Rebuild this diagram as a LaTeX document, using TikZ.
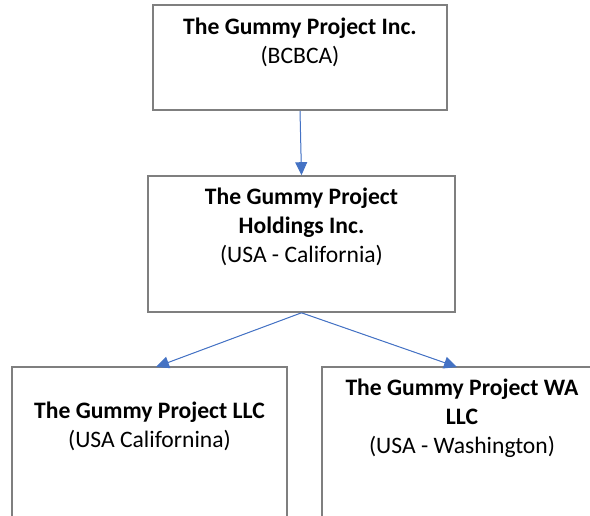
\documentclass[tikz,border=0pt]{standalone}
\usepackage{fontspec}
\setmainfont{Carlito}
\usetikzlibrary{arrows.meta, positioning}
\definecolor{boxgray}{RGB}{127,127,127}
\definecolor{linkblue}{RGB}{68,114,196}

\begin{document}
\begin{tikzpicture}[
    x=1pt, y=-1pt,
    entity/.style={rectangle, draw=boxgray, line width=1.6pt, inner sep=0pt},
    txt/.style={align=center, inner sep=0pt, anchor=north, font=\fontsize{23.6}{29}\selectfont},
    link/.style={-{Triangle[length=13pt, width=12pt]}, draw=linkblue, line width=1pt, fill=linkblue}
]
\useasboundingbox (0,0) rectangle (590,516);

\node[entity, minimum width=294pt, minimum height=105pt] (inc) at (300, 57.5) {};
\node[entity, minimum width=307pt, minimum height=136pt] (hold) at (301.5, 244) {};
\node[entity, minimum width=275pt, minimum height=170pt] (llc) at (149.5, 452) {};
\node[entity, minimum width=280pt, minimum height=170pt] (wa) at (462, 452) {};

\node[txt] (inc-t) at (300, 18) {\textbf{The Gummy Project Inc.}\\(BCBCA)};
\node[txt] (hold-t) at (301.5, 188) {\textbf{The Gummy Project}\\\textbf{Holdings Inc.}\\(USA - California)};
\node[txt] (llc-t) at (149.5, 402) {\textbf{The Gummy Project LLC}\\(USA Californina)};
\node[txt] (wa-t) at (462, 379) {\textbf{The Gummy Project WA}\\\textbf{LLC}\\(USA - Washington)};

\coordinate (llc-in) at (156, 367);
\coordinate (wa-in) at (457, 367);
\draw[link] (inc.south) -- (hold.north);
\draw[link] (hold.south) -- (llc-in);
\draw[link] (hold.south) -- (wa-in);
\end{tikzpicture}
\end{document}
